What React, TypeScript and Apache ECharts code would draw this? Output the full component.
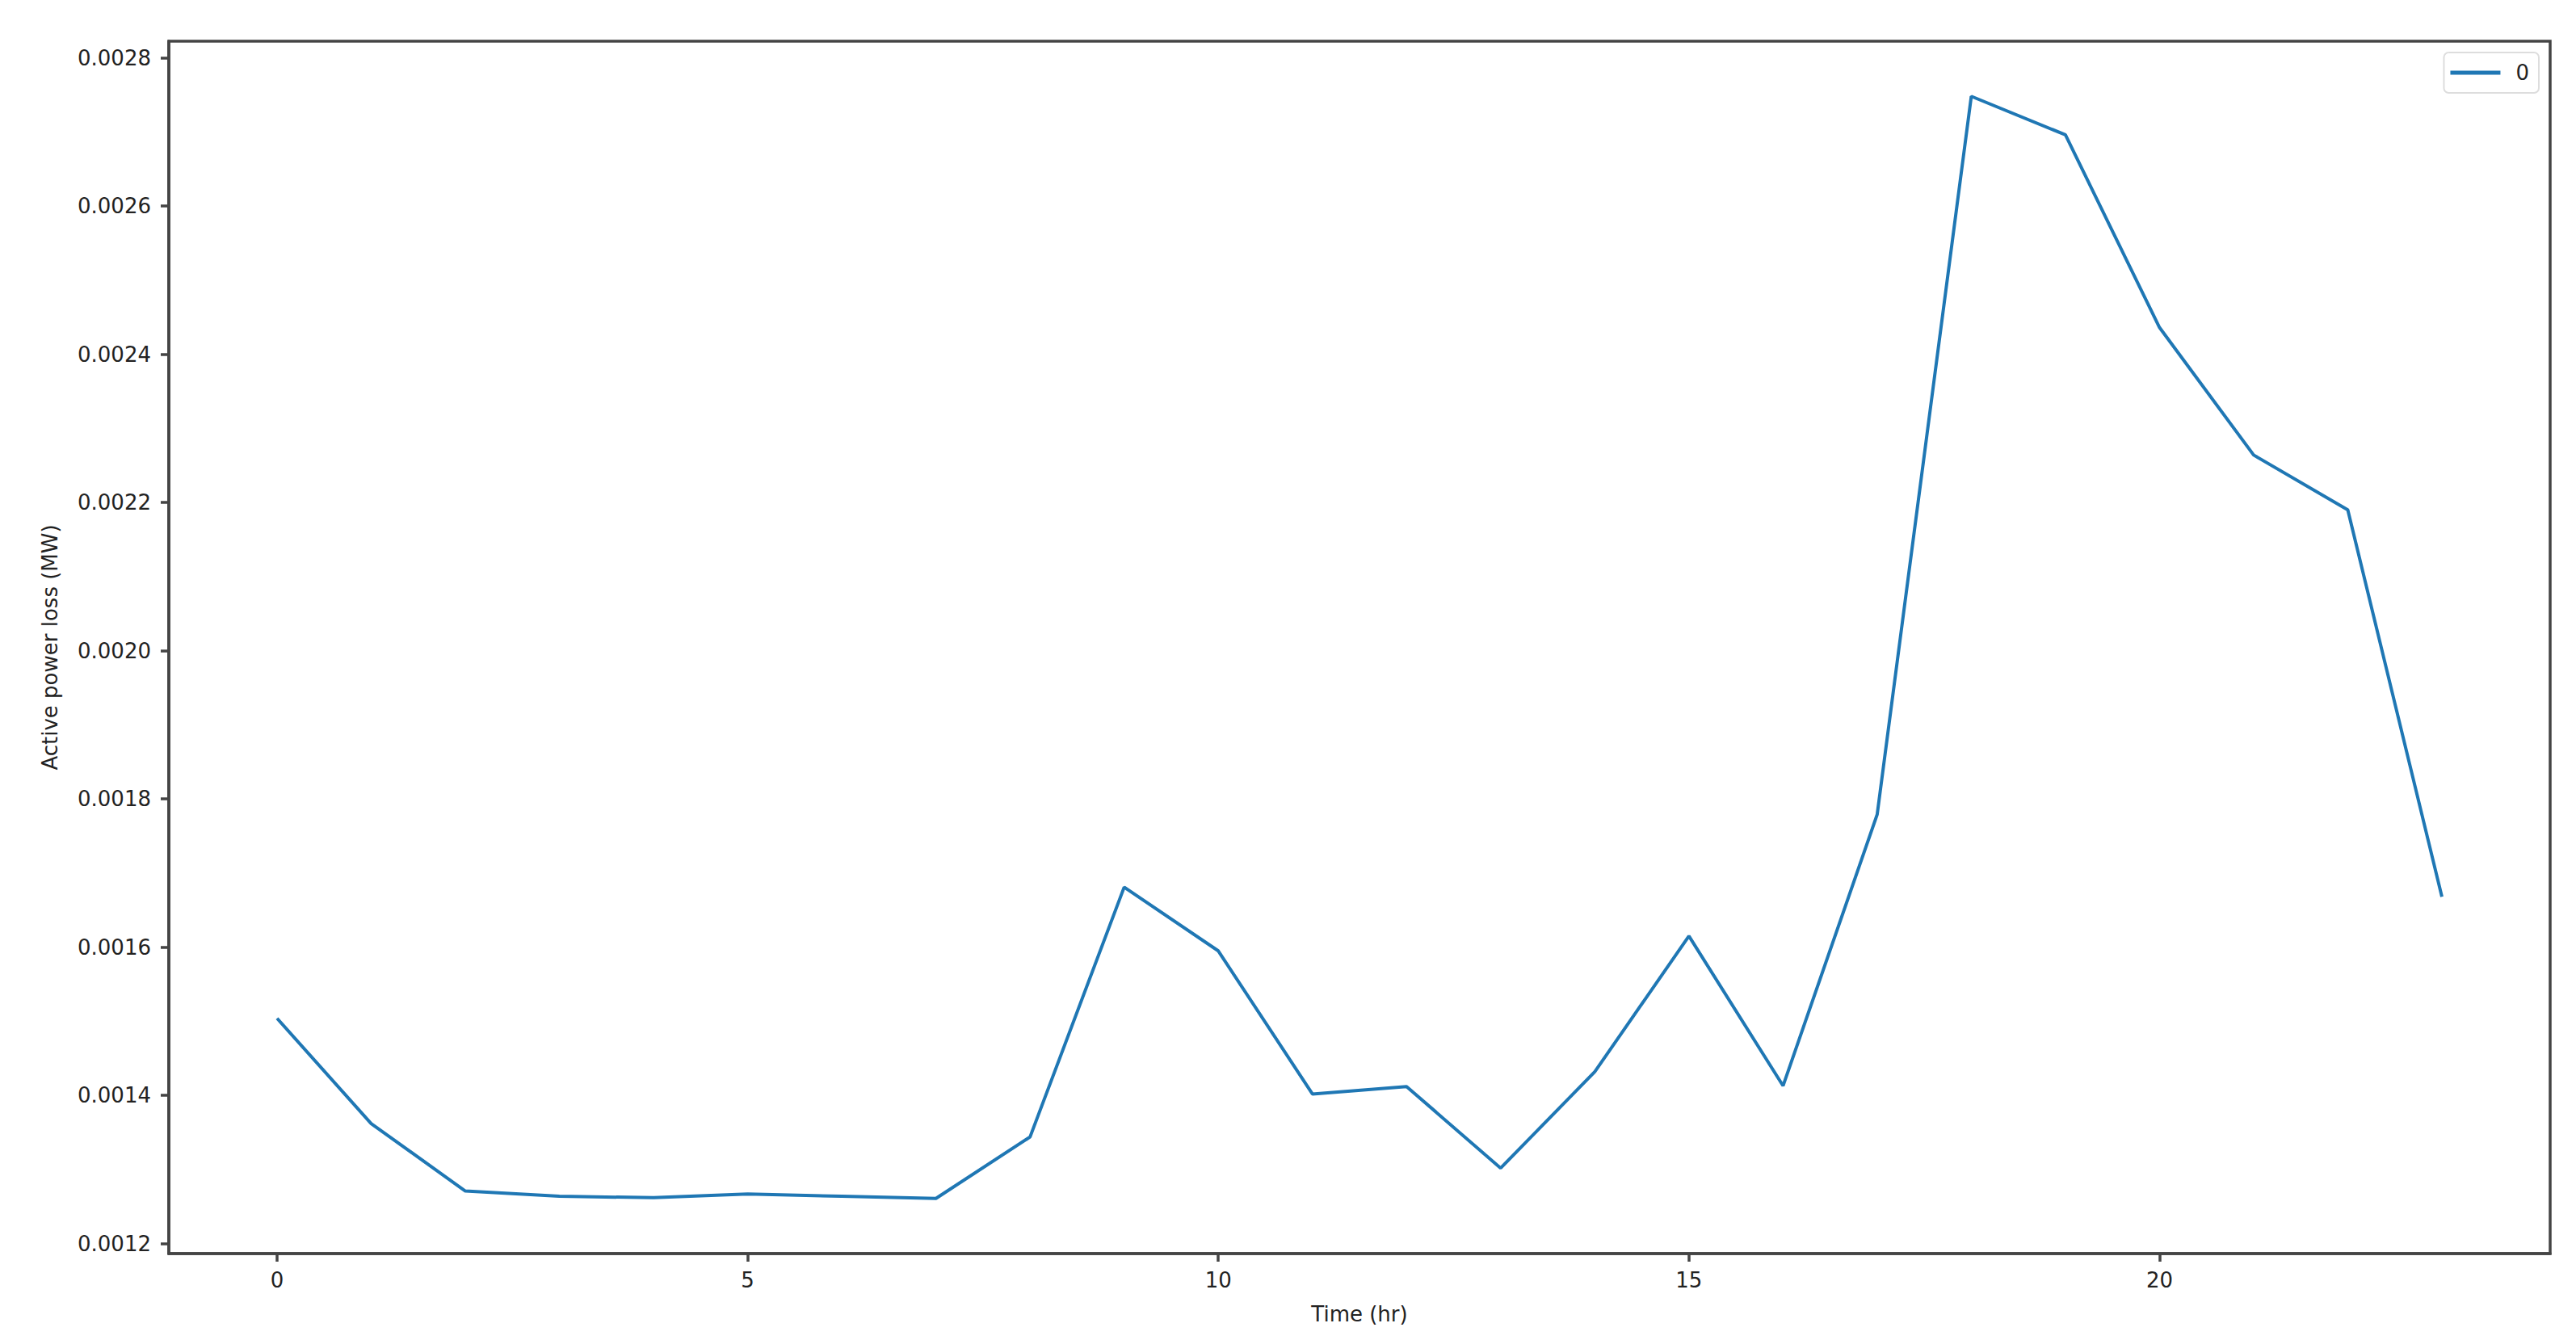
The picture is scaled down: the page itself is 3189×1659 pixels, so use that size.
import React, { useEffect, useRef } from "react";
import * as echarts from "echarts";

// hourly active power loss
const hours = [
	0, 1, 2, 3, 4, 5, 6, 7, 8, 9, 10, 11, 12, 13, 14, 15, 16, 17, 18, 19, 20, 21,
	22, 23,
];
const powerLoss = [
	0.001504, 0.001362, 0.001271, 0.001264, 0.001262, 0.001267, 0.001264,
	0.001261, 0.001344, 0.001681, 0.001595, 0.001402, 0.001412, 0.001302,
	0.001432, 0.001615, 0.001413, 0.001779, 0.002748, 0.002696, 0.002436,
	0.002264, 0.00219, 0.001668,
];
const xTicks = [0, 5, 10, 15, 20];
const yTicks = [0.0012, 0.0014, 0.0016, 0.0018, 0.002, 0.0022, 0.0024, 0.0026, 0.0028];
const seriesName = "0";

const FONT = "DejaVu Sans";
const INK = "#222";
const SPINE = "#444";
const BLUE = "#1f77b4";

const App = () => {
	const chartRef = useRef<HTMLDivElement>(null);

	useEffect(() => {
		if (!chartRef.current) return;
		const chart = echarts.init(chartRef.current, null, { renderer: "svg" });

		// matplotlib style 5% margins around the data
		const xPad = (hours[hours.length - 1] - hours[0]) * 0.05;
		const yMin = Math.min(...powerLoss);
		const yMax = Math.max(...powerLoss);
		const yPad = (yMax - yMin) * 0.05;

		const spine = { show: true, onZero: false, lineStyle: { color: SPINE, width: 3.5 } };

		chart.setOption({
			animation: false,
			backgroundColor: "#fff",
			grid: {
				left: 209,
				right: 32,
				top: 51,
				bottom: 107,
				show: true,
				borderColor: SPINE,
				borderWidth: 3.5,
				backgroundColor: "#fff",
			},
			legend: {
				right: 46,
				top: 65,
				orient: "vertical",
				data: [seriesName],
				icon: "rect",
				itemWidth: 62,
				itemHeight: 5,
				padding: [12, 12, 12, 8],
				borderColor: "#ddd",
				borderWidth: 2,
				borderRadius: 6,
				backgroundColor: "#fff",
				textStyle: {
					fontFamily: FONT,
					fontSize: 26,
					color: INK,
					padding: [0, 0, 0, 14],
				},
			},
			xAxis: {
				type: "value",
				min: hours[0] - xPad,
				max: hours[hours.length - 1] + xPad,
				name: "Time (hr)",
				nameLocation: "middle",
				nameGap: 62,
				nameTextStyle: { fontFamily: FONT, fontSize: 26, color: INK },
				axisLine: spine,
				splitLine: { show: false },
				axisTick: {
					show: true,
					inside: false,
					length: 10,
					customValues: xTicks,
					lineStyle: { color: SPINE, width: 3.5 },
				},
				axisLabel: {
					customValues: xTicks,
					margin: 20,
					fontFamily: FONT,
					fontSize: 26,
					color: INK,
				},
			},
			yAxis: {
				type: "value",
				min: yMin - yPad,
				max: yMax + yPad,
				name: "Active power loss (MW)",
				nameLocation: "middle",
				nameGap: 134,
				nameRotate: 90,
				nameTextStyle: { fontFamily: FONT, fontSize: 26, color: INK },
				axisLine: spine,
				splitLine: { show: false },
				axisTick: {
					show: true,
					inside: false,
					length: 10,
					customValues: yTicks,
					lineStyle: { color: SPINE, width: 3.5 },
				},
				axisLabel: {
					customValues: yTicks,
					margin: 22,
					fontFamily: FONT,
					fontSize: 26,
					color: INK,
					formatter: (v: number) => v.toFixed(4),
				},
			},
			series: [
				{
					name: seriesName,
					type: "line",
					data: hours.map((h, i) => [h, powerLoss[i]]),
					symbol: "none",
					lineStyle: { color: BLUE, width: 4 },
					itemStyle: { color: BLUE },
				},
			],
		});

		return () => {
			chart.dispose();
		};
	}, []);

	return (
		<div
			ref={chartRef}
			style={{
				position: "absolute",
				left: 0,
				top: 0,
				width: "3189px",
				height: "1659px",
			}}
		/>
	);
};

export default App;
